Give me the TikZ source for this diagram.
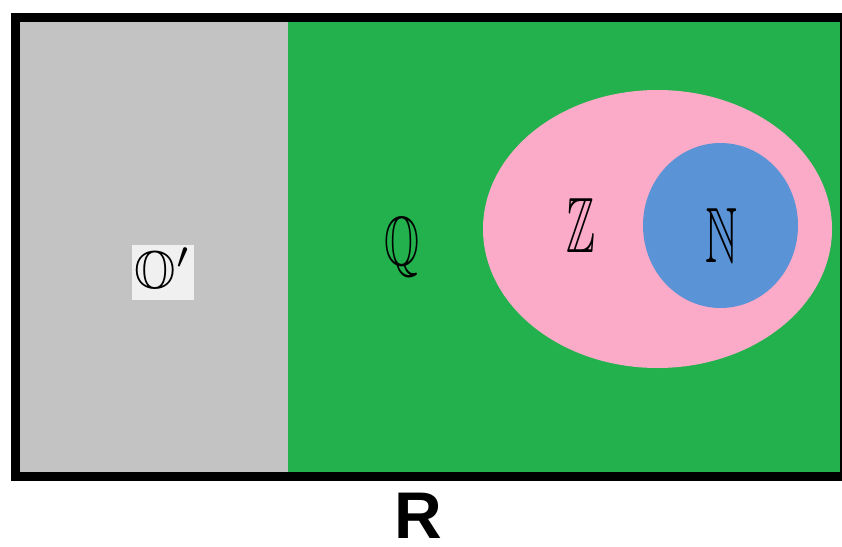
\documentclass[tikz,border=0pt]{standalone}
\usepackage{amssymb}
\usepackage{graphicx}
\usepackage{fontspec}
\usepackage{tikz}
\usetikzlibrary{positioning,shapes.geometric}
\newfontfamily\labelfont{Liberation Sans}
\definecolor{setGray}{HTML}{C3C3C3}
\definecolor{setGreen}{HTML}{22B14C}
\definecolor{setPink}{HTML}{FBABC7}
\definecolor{setBlue}{HTML}{5A93D6}

% blackboard letter squeezed to a given width and height
\newcommand{\bbsym}[3]{\resizebox{#1}{#2}{$\mathbb{#3}$}}

\begin{document}
\begin{tikzpicture}[
  x=1pt, y=-1pt,
  region/.style={inner sep=0pt, outer sep=0pt},
  setname/.style={inner sep=0pt, anchor=base},
  frame/.style={draw=black, line width=9pt},
]

\useasboundingbox (0,0) rectangle (842,546);
\clip (0,0) rectangle (842,546);

% === R: the box ===
\fill[setGray]  (20,22) rectangle (288,472);
\fill[setGreen] (288,22) rectangle (840,472);
\draw[frame] (15.5,17.5) rectangle (844.5,476);

% === Z and N ===
\node[region, ellipse, fill=setPink, minimum width=349pt, minimum height=278pt]
  (zset) at (657.5,229) {};
\node[region, ellipse, fill=setBlue, minimum width=155pt, minimum height=165pt]
  (nset) at (720.5,225.5) {};

% === labels ===
\node[setname, fill=white!75!setGray, inner sep=3pt] (olabel) at (163,288) {\resizebox{!}{40pt}{$\mathbb{O}'$}};
\node[setname] (qlabel) at (402,265) {\bbsym{35pt}{48pt}{Q}};
\node[setname] (zlabel) at (581,252) {\bbsym{29pt}{54pt}{Z}};
\node[setname] (nlabel) at (721,262) {\bbsym{32pt}{54pt}{N}};
\node[setname, font=\labelfont\bfseries\fontsize{66}{70}\selectfont] (rlabel) at (418,538) {R};

\end{tikzpicture}
\end{document}
